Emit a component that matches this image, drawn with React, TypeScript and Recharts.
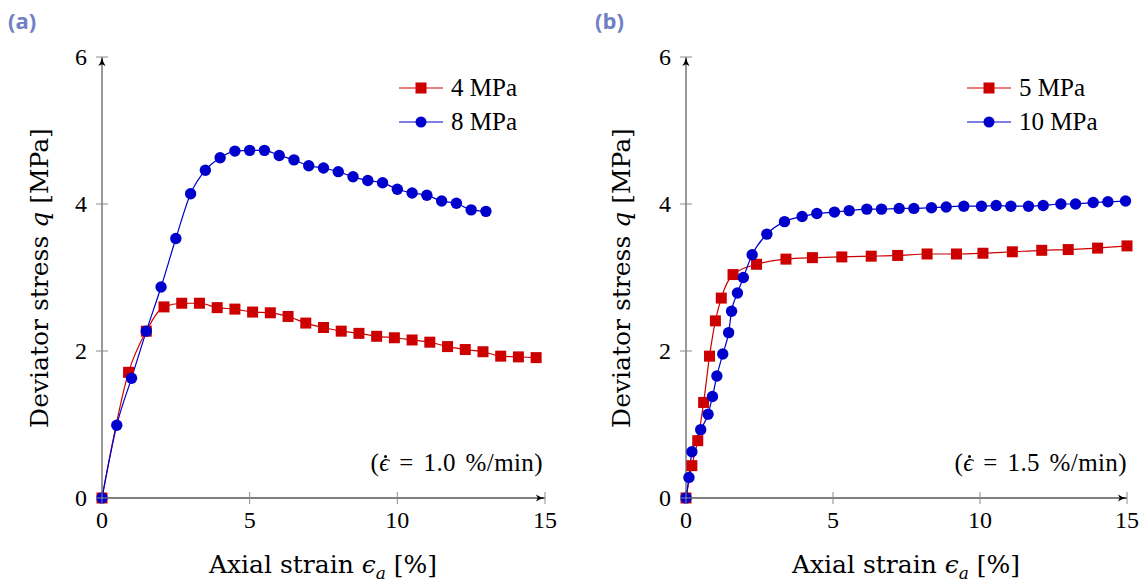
import { LineChart, Line, XAxis, YAxis, Legend } from 'recharts'

// panel (a): 4 MPa and 8 MPa confining pressure, 1.0 %/min
const strain4 = [0, 0.9, 1.5, 2.1, 2.7, 3.3, 3.9, 4.5, 5.1, 5.7, 6.3, 6.9, 7.5, 8.1, 8.7, 9.3, 9.9, 10.5, 11.1, 11.7, 12.3, 12.9, 13.5, 14.1, 14.7]
const stress4 = [0, 1.71, 2.27, 2.6, 2.65, 2.65, 2.59, 2.57, 2.53, 2.52, 2.47, 2.38, 2.32, 2.27, 2.24, 2.2, 2.18, 2.15, 2.12, 2.06, 2.02, 1.99, 1.93, 1.92, 1.91]
const strain8 = [0, 0.5, 1, 1.5, 2, 2.5, 3, 3.5, 4, 4.5, 5, 5.5, 6, 6.5, 7, 7.5, 8, 8.5, 9, 9.5, 10, 10.5, 11, 11.5, 12, 12.5, 13]
const stress8 = [0, 0.99, 1.63, 2.27, 2.87, 3.53, 4.14, 4.46, 4.63, 4.72, 4.73, 4.73, 4.66, 4.6, 4.52, 4.49, 4.44, 4.37, 4.32, 4.29, 4.2, 4.15, 4.12, 4.04, 4.01, 3.92, 3.9]

// panel (b): 5 MPa and 10 MPa, 1.5 %/min
const strain5 = [0, 0.2, 0.4, 0.6, 0.8, 1.0, 1.2, 1.6, 2.4, 3.4, 4.3, 5.3, 6.3, 7.2, 8.2, 9.2, 10.1, 11.1, 12.1, 13.0, 14.0, 15.0]
const stress5 = [0, 0.44, 0.78, 1.3, 1.93, 2.41, 2.72, 3.04, 3.18, 3.25, 3.27, 3.28, 3.29, 3.3, 3.32, 3.32, 3.33, 3.35, 3.37, 3.38, 3.4, 3.43]
const strain10 = [0, 0.1, 0.2, 0.5, 0.75, 0.9, 1.05, 1.25, 1.45, 1.55, 1.75, 1.95, 2.25, 2.75, 3.35, 3.95, 4.45, 5.05, 5.55, 6.15, 6.65, 7.25, 7.75, 8.35, 8.85, 9.45, 10.05, 10.55, 11.05, 11.65, 12.15, 12.75, 13.25, 13.85, 14.35, 14.95]
const stress10 = [0, 0.28, 0.63, 0.93, 1.14, 1.38, 1.66, 1.96, 2.25, 2.54, 2.79, 3.0, 3.31, 3.59, 3.76, 3.83, 3.87, 3.89, 3.91, 3.93, 3.93, 3.94, 3.94, 3.95, 3.96, 3.97, 3.97, 3.98, 3.97, 3.97, 3.98, 4.0, 4.0, 4.02, 4.03, 4.04]

const xTicks = [0, 5, 10, 15]
const yTicks = [0, 2, 4, 6]

const RED = '#cc0000'
const BLUE = '#0000cc'
const SERIF = '"Liberation Serif", "DejaVu Serif", serif'
const TITLE_FONT = '"DejaVu Serif", serif'

const toRows = (xs: number[], ys: number[]) => xs.map((e, i) => ({ e, q: ys[i] }))

const Square = ({ cx, cy }: any) => <rect x={cx - 5.5} y={cy - 5.5} width={11} height={11} fill={RED} />
const Circle = ({ cx, cy }: any) => <circle cx={cx} cy={cy} r={5.7} fill={BLUE} />

const YTick = ({ x, y, payload }: any) => (
  <g>
    <line x1={x + 4} x2={x + 16} y1={y} y2={y} stroke="#8c8c8c" />
    <text x={x - 5} y={y} dy="0.33em" textAnchor="end" fontFamily={SERIF} fontSize={24} fill="#000">{payload.value}</text>
  </g>
)

const XTick = ({ x, y, payload }: any) => (
  <g>
    <line x1={x} x2={x} y1={y - 16} y2={y - 4} stroke="#8c8c8c" />
    <text x={x} y={y + 20} textAnchor="middle" fontFamily={SERIF} fontSize={24} fill="#000">{payload.value}</text>
  </g>
)

const LegendBox = ({ payload }: any) => {
  // keep the order the series were declared in (red first)
  const items = [...(payload || [])].sort((a: any, b: any) => (a.color === RED ? 0 : 1) - (b.color === RED ? 0 : 1))
  return (
    <div style={{ fontFamily: SERIF, fontSize: 25, color: '#000' }}>
      {items.map((item: any) => (
        <div key={item.value} style={{ display: 'flex', alignItems: 'center', height: 34 }}>
          <svg width={50} height={20}>
            <line x1={0} x2={44} y1={10} y2={10} stroke={item.color} strokeWidth={1.2} />
            {item.color === RED
              ? <rect x={16.5} y={4.5} width={11} height={11} fill={RED} />
              : <circle cx={22} cy={10} r={5.5} fill={BLUE} />}
          </svg>
          <span style={{ marginLeft: 2 }}>{item.value}</span>
        </div>
      ))}
    </div>
  )
}

interface PanelProps {
  left: number
  marginLeft: number
  marginRight: number
  legendLeft: number
  redRows: { e: number, q: number }[]
  blueRows: { e: number, q: number }[]
  redName: string
  blueName: string
}

function Panel({ left, marginLeft, marginRight, legendLeft, redRows, blueRows, redName, blueName }: PanelProps) {
  return (
    <div style={{ position: 'absolute', left, top: 0 }}>
      <LineChart width={574} height={585} margin={{ top: 57, right: marginRight, left: marginLeft, bottom: 37 }}>
        <XAxis
          type="number"
          dataKey="e"
          domain={[0, 15]}
          ticks={xTicks}
          height={50}
          tickSize={0}
          tickMargin={10}
          tickLine={false}
          tick={<XTick />}
          axisLine={{ stroke: '#000', strokeWidth: 1, markerEnd: 'url(#axisArrow)' }}
        />
        <YAxis
          type="number"
          domain={[0, 6]}
          ticks={yTicks}
          width={60}
          tickSize={0}
          tickMargin={10}
          tickLine={false}
          tick={<YTick />}
          axisLine={{ stroke: '#333', strokeWidth: 1, markerStart: 'url(#axisArrow)' }}
        />
        <Legend
          layout="vertical"
          align="center"
          verticalAlign="middle"
          content={<LegendBox />}
          wrapperStyle={{ left: legendLeft, top: 71, width: 'auto', height: 'auto' }}
        />
        <Line
          data={redRows}
          dataKey="q"
          name={redName}
          type="monotone"
          stroke={RED}
          strokeWidth={1.2}
          dot={<Square />}
          activeDot={false}
          isAnimationActive={false}
        />
        <Line
          data={blueRows}
          dataKey="q"
          name={blueName}
          type="monotone"
          stroke={BLUE}
          strokeWidth={1.2}
          dot={<Circle />}
          activeDot={false}
          isAnimationActive={false}
        />
      </LineChart>
    </div>
  )
}

const textBase = { position: 'absolute' as const, color: '#000', whiteSpace: 'nowrap' as const }

function XTitle({ cx }: { cx: number }) {
  return (
    <div style={{ ...textBase, fontFamily: TITLE_FONT, left: cx - 200, width: 400, top: 549, lineHeight: '32px', fontSize: 25, textAlign: 'center' }}>
      Axial strain <i>ϵ<sub style={{ fontSize: 17 }}>a</sub></i> [%]
    </div>
  )
}

function YTitle({ cx }: { cx: number }) {
  return (
    <div style={{ ...textBase, fontFamily: TITLE_FONT, left: cx - 200, width: 400, top: 262, lineHeight: '32px', fontSize: 25, textAlign: 'center', transform: 'rotate(-90deg)' }}>
      Deviator stress <i>q</i> [MPa]
    </div>
  )
}

function Rate({ right, value }: { right: number, value: string }) {
  return (
    <div style={{ ...textBase, fontFamily: SERIF, left: right - 300, width: 300, top: 448, lineHeight: '30px', fontSize: 25, wordSpacing: 3, letterSpacing: 0.4, textAlign: 'right' }}>
      (<span style={{ position: 'relative', fontStyle: 'italic' }}>ϵ<span style={{ position: 'absolute', left: 5, top: 6, width: 3, height: 3, borderRadius: 2, background: '#000' }} /></span> = {value} %/min)
    </div>
  )
}

function PanelTag({ left, text }: { left: number, text: string }) {
  return (
    <div style={{ position: 'absolute', left, top: 5, fontFamily: '"Open Sans", sans-serif', fontWeight: 700, fontSize: 22, lineHeight: '30px', color: '#6f80c4' }}>
      {text}
    </div>
  )
}

export default function App() {
  return (
    <div style={{ position: 'absolute', left: 0, top: 0, width: 1148, height: 585, background: '#fff', overflow: 'hidden' }}>
      <svg width={0} height={0} style={{ position: 'absolute' }}>
        <defs>
          <marker id="axisArrow" viewBox="0 0 10 10" refX={10} refY={5} markerWidth={9} markerHeight={9} markerUnits="userSpaceOnUse" orient="auto-start-reverse">
            <path d="M0,1 Q4,4 10,5 Q4,6 0,9 L2,5 Z" fill="#000" />
          </marker>
        </defs>
      </svg>
      <Panel
        left={0}
        marginLeft={42}
        marginRight={29}
        legendLeft={399}
        redRows={toRows(strain4, stress4)}
        blueRows={toRows(strain8, stress8)}
        redName="4 MPa"
        blueName="8 MPa"
      />
      <Panel
        left={574}
        marginLeft={52}
        marginRight={21}
        legendLeft={393}
        redRows={toRows(strain5, stress5)}
        blueRows={toRows(strain10, stress10)}
        redName="5 MPa"
        blueName="10 MPa"
      />
      <PanelTag left={8} text="(a)" />
      <PanelTag left={595} text="(b)" />
      <XTitle cx={323} />
      <XTitle cx={906} />
      <YTitle cx={40} />
      <YTitle cx={622} />
      <Rate right={543} value="1.0" />
      <Rate right={1127} value="1.5" />
    </div>
  )
}
